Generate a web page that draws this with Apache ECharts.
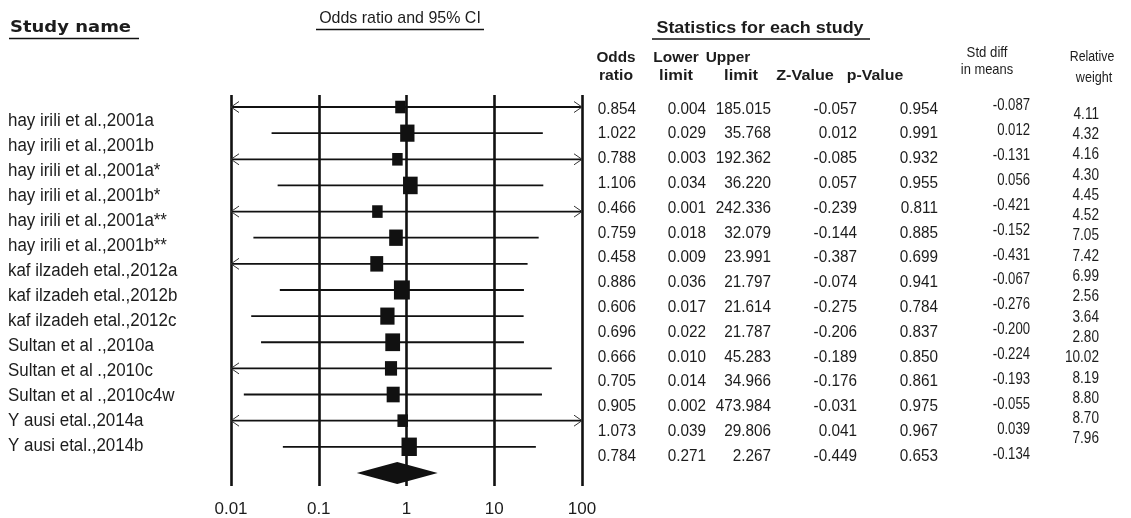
<!DOCTYPE html>
<html>
<head>
<meta charset="utf-8">
<script src="https://cdn.jsdelivr.net/npm/echarts@6/dist/echarts.min.js"></script>
<style>
html,body{margin:0;padding:0;background:#ffffff;}
#c{width:1131px;height:518px;}
</style>
</head>
<body>
<div id="c"></div>
<script>
// ---------------- data ----------------
const studyNames = [
  'hay irili et al.,2001a',
  'hay irili et al.,2001b',
  'hay irili et al.,2001a*',
  'hay irili et al.,2001b*',
  'hay irili et al.,2001a**',
  'hay irili et al.,2001b**',
  'kaf ilzadeh etal.,2012a',
  'kaf ilzadeh etal.,2012b',
  'kaf ilzadeh etal.,2012c',
  'Sultan et al .,2010a',
  'Sultan et al .,2010c',
  'Sultan et al .,2010c4w',
  'Y ausi etal.,2014a',
  'Y ausi etal.,2014b'
];
// 14 studies followed by the pooled (summary) row
const oddsRatio  = [0.854, 1.022, 0.788, 1.106, 0.466, 0.759, 0.458, 0.886, 0.606, 0.696, 0.666, 0.705, 0.905, 1.073, 0.784];
const lowerLimit = [0.004, 0.029, 0.003, 0.034, 0.001, 0.018, 0.009, 0.036, 0.017, 0.022, 0.010, 0.014, 0.002, 0.039, 0.271];
const upperLimit = [185.015, 35.768, 192.362, 36.220, 242.336, 32.079, 23.991, 21.797, 21.614, 21.787, 45.283, 34.966, 473.984, 29.806, 2.267];
const zValue     = [-0.057, 0.012, -0.085, 0.057, -0.239, -0.144, -0.387, -0.074, -0.275, -0.206, -0.189, -0.176, -0.031, 0.041, -0.449];
const pValue     = [0.954, 0.991, 0.932, 0.955, 0.811, 0.885, 0.699, 0.941, 0.784, 0.837, 0.850, 0.861, 0.975, 0.967, 0.653];
const stdDiff    = [-0.087, 0.012, -0.131, 0.056, -0.421, -0.152, -0.431, -0.067, -0.276, -0.200, -0.224, -0.193, -0.055, 0.039, -0.134];
const relWeight  = [4.11, 4.32, 4.16, 4.30, 4.45, 4.52, 7.05, 7.42, 6.99, 2.56, 3.64, 2.80, 10.02, 8.19, 8.80, 8.70, 7.96];
const tickLabels = ['0.01', '0.1', '1', '10', '100'];

// ---------------- chart ----------------
const XMIN = 0.01, XMAX = 100;
const INK = '#111111';
const TXT = '#1c1c1c';
const SANS = '"Liberation Sans", Arial, Helvetica, sans-serif';

const N = studyNames.length;
const studyRows = oddsRatio.slice(0, N).map((v, i) => [v, lowerLimit[i], upperLimit[i], i]);
const summaryRow = [[oddsRatio[N], lowerLimit[N], upperLimit[N], N]];

function ciItem(params, api) {
  const or = api.value(0), lo = api.value(1), hi = api.value(2), i = api.value(3);
  const pL = api.coord([Math.max(lo, XMIN), i]);
  const pU = api.coord([Math.min(hi, XMAX), i]);
  const pC = api.coord([or, i]);
  const children = [{
    type: 'line',
    shape: {x1: pL[0], y1: pL[1], x2: pU[0], y2: pU[1]},
    style: {stroke: INK, lineWidth: 1.8}
  }];
  if (lo <= XMIN) {
    children.push({type: 'polyline',
      shape: {points: [[pL[0] + 8, pL[1] - 5.5], [pL[0], pL[1]], [pL[0] + 8, pL[1] + 5.5]]},
      style: {stroke: '#333', lineWidth: 1, fill: null}});
  }
  if (hi >= XMAX) {
    children.push({type: 'polyline',
      shape: {points: [[pU[0] - 8, pU[1] - 5.5], [pU[0], pU[1]], [pU[0] - 8, pU[1] + 5.5]]},
      style: {stroke: '#333', lineWidth: 1, fill: null}});
  }
  // box area proportional to inverse variance (from the CI width)
  const se = (Math.log(hi) - Math.log(lo)) / (2 * 1.96);
  const w = Math.max(26 / se, 10.5);
  const h = w * 1.2;
  children.push({type: 'rect',
    shape: {x: pC[0] - w / 2, y: pC[1] - h / 2, width: w, height: h},
    style: {fill: INK}});
  return {type: 'group', children: children};
}

function diamondItem(params, api) {
  const i = api.value(3);
  const pC = api.coord([api.value(0), i]);
  const pL = api.coord([api.value(1), i]);
  const pU = api.coord([api.value(2), i]);
  const hh = 11;
  return {type: 'polygon',
    shape: {points: [[pL[0], pL[1]], [pC[0], pC[1] - hh], [pU[0], pU[1]], [pC[0], pC[1] + hh]]},
    style: {fill: INK}};
}

// ---------------- texts (graphic) ----------------
function txt(text, x, y, font, align, sx) {
  return {
    type: 'text', x: x, y: y, scaleX: sx || 1, scaleY: 1, silent: true,
    style: {text: text, font: font, fill: TXT,
      align: align || 'left', verticalAlign: 'middle',
      textAlign: align || 'left', textVerticalAlign: 'middle'}
  };
}
function hline(x1, x2, y, w) {
  return {type: 'line', silent: true, shape: {x1: x1, y1: y, x2: x2, y2: y},
    style: {stroke: INK, lineWidth: w || 1.4}};
}

const g = [];
// titles
g.push(txt('Study name', 10, 28, 'bold 15.5px "DejaVu Sans", Verdana, sans-serif', 'left', 1.16));
g.push(hline(9, 139, 38.5, 1.6));
g.push(txt('Odds ratio and 95% CI', 400, 18.5, '17px ' + SANS, 'center', 0.94));
g.push(hline(316, 484, 29.5, 1.4));
g.push(txt('Statistics for each study', 760, 28.5, 'bold 16px ' + SANS, 'center', 1.12));
g.push(hline(652, 870, 39, 1.6));

// column headers
const HB = 'bold 15px ' + SANS;
g.push(txt('Odds', 616, 58, HB, 'center', 1.02));
g.push(txt('ratio', 616, 76, HB, 'center', 1.05));
g.push(txt('Lower', 676, 58, HB, 'center', 1.03));
g.push(txt('limit', 676, 76, HB, 'center', 1.1));
g.push(txt('Upper', 728, 58, HB, 'center', 1.03));
g.push(txt('limit', 741, 76, HB, 'center', 1.1));
g.push(txt('Z-Value', 805, 76, HB, 'center', 1.08));
g.push(txt('p-Value', 875, 76, HB, 'center', 1.06));
g.push(txt('Std diff', 987, 53, '15px ' + SANS, 'center', 0.88));
g.push(txt('in means', 987, 70, '15px ' + SANS, 'center', 0.86));
g.push(txt('Relative', 1092, 57, '14px ' + SANS, 'center', 0.88));
g.push(txt('weight', 1094, 78, '14px ' + SANS, 'center', 0.9));

// study names
for (let i = 0; i < N; i++) {
  g.push(txt(studyNames[i], 8, 120.6 + 25.05 * i, '18px ' + SANS, 'left', 0.94));
}
// statistics table
const NF = '17px ' + SANS;
for (let i = 0; i < oddsRatio.length; i++) {
  const y = 109 + 24.8 * i;
  g.push(txt(oddsRatio[i].toFixed(3), 636, y, NF, 'right', 0.9));
  g.push(txt(lowerLimit[i].toFixed(3), 706, y, NF, 'right', 0.9));
  g.push(txt(upperLimit[i].toFixed(3), 771, y, NF, 'right', 0.9));
  g.push(txt(zValue[i].toFixed(3), 857, y, NF, 'right', 0.9));
  g.push(txt(pValue[i].toFixed(3), 938, y, NF, 'right', 0.9));
  g.push(txt(stdDiff[i].toFixed(3), 1030, 105.6 + 24.92 * i, '16px ' + SANS, 'right', 0.82));
}
for (let j = 0; j < relWeight.length; j++) {
  g.push(txt(relWeight[j].toFixed(2), 1099, 114.2 + 20.3 * j, '16px ' + SANS, 'right', 0.85));
}

const chart = echarts.init(document.getElementById('c'));
chart.setOption({
  animation: false,
  backgroundColor: '#ffffff',
  grid: {left: 231, right: 549, top: 95, bottom: 32},
  xAxis: {
    type: 'log', logBase: 10, min: XMIN, max: XMAX,
    axisLine: {show: false}, axisTick: {show: false},
    splitLine: {show: true, showMinLine: true, showMaxLine: true, lineStyle: {color: INK, width: 2.6}},
    axisLabel: {
      formatter: function (v, idx) {
        const k = Math.round(Math.log(v) / Math.LN10) + 2;
        return tickLabels[k] !== undefined ? tickLabels[k] : '';
      },
      fontFamily: SANS, fontSize: 17, color: TXT, margin: 23, verticalAlign: 'middle'
    }
  },
  yAxis: {type: 'value', min: -0.46, max: 14.5, inverse: true, show: false},
  series: [
    {type: 'custom', renderItem: ciItem, data: studyRows, encode: {x: 0, y: 3}, clip: false, z: 3},
    {type: 'custom', renderItem: diamondItem, data: summaryRow, encode: {x: 0, y: 3}, clip: false, z: 3}
  ],
  graphic: {elements: g}
});
</script>
</body>
</html>
